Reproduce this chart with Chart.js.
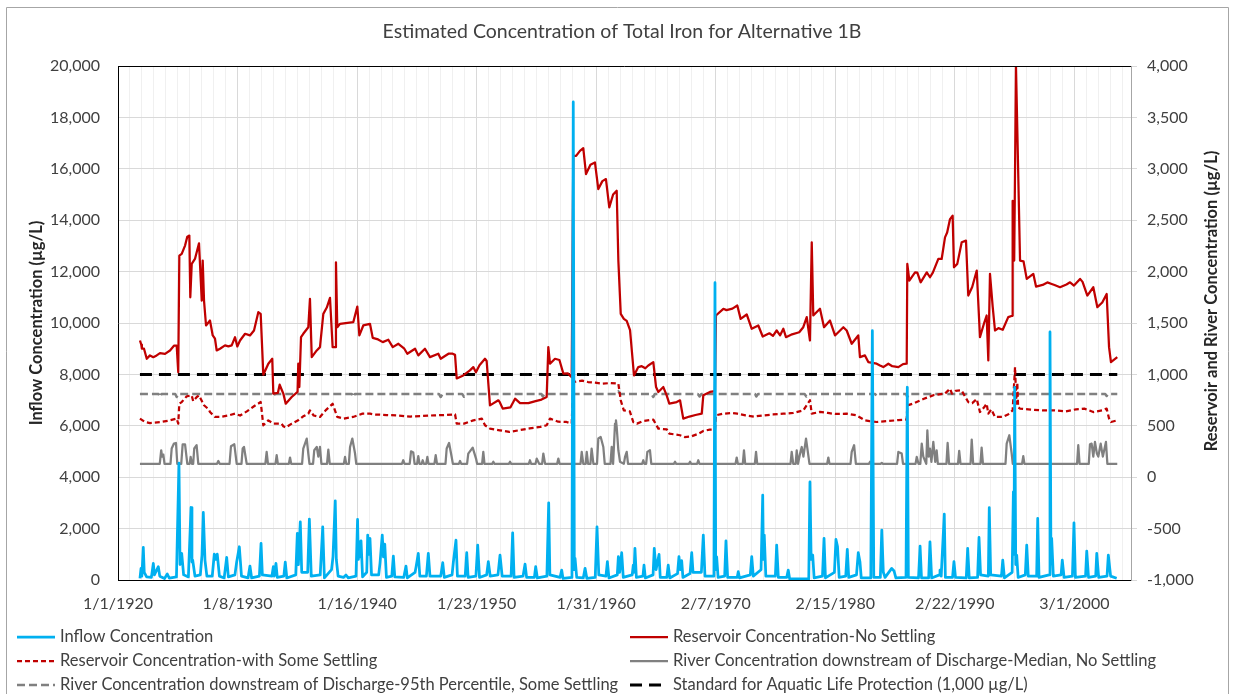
<!DOCTYPE html>
<html>
<head>
<meta charset="utf-8">
<script src="https://cdn.jsdelivr.net/npm/chart.js@4.4.0/dist/chart.umd.min.js"></script>
<style>
  html, body { margin: 0; padding: 0; background: #fff; }
  #wrap { position: relative; width: 1235px; height: 694px; }
</style>
</head>
<body>
<div id="wrap"><canvas id="ironChart"></canvas></div>
<script>
// ═══════════════════════════════════════════════════════
// Estimated Concentration of Total Iron — Alternative 1B
// x = decimal year, y = µg/L
// ═══════════════════════════════════════════════════════

const chartTitle = "Estimated Concentration of Total Iron for Alternative 1B";
const leftAxisTitle = "Inflow Concentration (µg/L)";
const rightAxisTitle = "Reservoir and River Concentration (µg/L)";

const seriesNames = [
  "Inflow Concentration",
  "Reservoir Concentration-No Settling",
  "Reservoir Concentration-with Some Settling",
  "River Concentration downstream of Discharge-Median, No Settling",
  "River Concentration downstream of Discharge-95th Percentile, Some Settling",
  "Standard for Aquatic Life Protection (1,000 µg/L)"
];

const xTickLabels = ["1/1/1920", "1/8/1930", "1/16/1940", "1/23/1950", "1/31/1960",
  "2/7/1970", "2/15/1980", "2/22/1990", "3/1/2000"];

// left axis
const inflow = [
  [1921.84,60],[1921.93,453],[1922.0,150],[1922.12,1268],[1922.2,300],[1922.4,120],[1922.8,100],[1922.96,647],
  [1923.05,200],[1923.38,517],[1923.5,150],[1923.9,60],[1924.13,233],[1924.3,70],[1924.9,120],[1925.11,4550],
  [1925.2,600],[1925.34,1035],[1925.5,200],[1925.9,120],[1926.12,2821],[1926.2,700],[1926.26,776],[1926.45,150],
  [1926.9,200],[1927.04,970],[1927.15,2627],[1927.29,776],[1927.45,150],[1927.9,150],[1928.07,1009],[1928.2,800],
  [1928.32,1009],[1928.5,150],[1928.9,80],[1929.11,880],[1929.25,120],[1929.8,200],[1929.95,712],[1930.17,1294],
  [1930.35,150],[1930.9,80],[1931.06,543],[1931.2,80],[1931.85,150],[1931.99,1423],[1932.1,200],[1932.9,150],
  [1933.02,518],[1933.1,150],[1933.24,647],[1933.35,100],[1933.9,150],[1934.02,699],[1934.15,80],[1934.9,200],
  [1935.03,1812],[1935.12,600],[1935.28,2265],[1935.4,300],[1935.9,300],[1936.04,2368],[1936.2,150],[1936.95,200],
  [1937.16,2070],[1937.3,80],[1937.9,400],[1938.02,900],[1938.21,3080],[1938.3,800],[1938.45,150],[1938.9,100],
  [1939.11,194],[1939.3,80],[1939.95,150],[1940.08,2355],[1940.15,800],[1940.23,1488],[1940.3,900],[1940.37,1527],
  [1940.5,120],[1940.85,300],[1940.93,1747],[1941.0,1000],[1941.12,1618],[1941.25,200],[1941.85,200],[1941.96,647],
  [1942.15,1747],[1942.25,900],[1942.36,1398],[1942.5,100],[1942.95,150],[1943.08,932],[1943.2,120],[1943.95,100],
  [1944.14,543],[1944.25,80],[1944.9,300],[1944.98,500],[1945.17,1035],[1945.3,150],[1945.85,150],[1946.01,1035],
  [1946.15,150],[1947.05,150],[1947.22,673],[1947.35,100],[1948.0,200],[1948.11,700],[1948.33,1553],[1948.45,150],
  [1949.1,150],[1949.23,1061],[1949.35,100],[1950.0,150],[1950.15,1359],[1950.3,100],[1950.9,200],[1951.04,712],
  [1951.2,150],[1951.85,200],[1952.02,970],[1952.2,150],[1952.95,150],[1953.08,1838],[1953.2,100],[1953.95,150],
  [1954.12,621],[1954.25,100],[1954.9,100],[1955.01,518],[1955.15,80],[1955.95,150],[1956.10,3002],[1956.2,200],
  [1957.05,100],[1957.19,388],[1957.3,60],[1958.05,100],[1958.16,18600],[1958.25,400],[1958.31,841],[1958.45,100],
  [1959.0,80],[1959.15,453],[1959.3,60],[1960.0,100],[1960.15,2070],[1960.3,200],[1960.9,150],[1961.02,712],
  [1961.15,80],[1961.85,200],[1961.94,906],[1962.05,300],[1962.22,1061],[1962.35,100],[1963.1,200],[1963.19,582],
  [1963.25,300],[1963.33,1229],[1963.45,100],[1964.0,150],[1964.09,582],[1964.2,80],[1964.85,200],[1964.95,1229],
  [1965.1,400],[1965.35,996],[1965.45,100],[1966.0,100],[1966.12,582],[1966.25,80],[1966.9,250],[1967.02,906],
  [1967.12,400],[1967.25,750],[1967.35,100],[1967.95,250],[1968.09,1061],[1968.2,300],[1968.9,300],[1969.06,1747],
  [1969.2,150],[1969.95,150],[1970.04,11570],[1970.1,400],[1970.18,900],[1970.3,100],[1970.85,150],[1970.96,1527],
  [1971.1,100],[1971.9,100],[1971.99,324],[1972.1,80],[1973.0,200],[1973.12,906],[1973.25,150],[1973.9,400],
  [1974.04,3300],[1974.1,800],[1974.17,1747],[1974.3,150],[1975.1,150],[1975.21,1359],[1975.35,100],[1976.05,100],
  [1976.18,388],[1976.3,40],[1977.9,40],[1978.0,3817],[1978.1,800],[1978.23,970],[1978.35,80],[1979.05,150],
  [1979.18,1618],[1979.3,80],[1980.05,300],[1980.18,1579],[1980.31,1300],[1980.45,100],[1981.0,150],[1981.13,1190],
  [1981.25,100],[1981.9,200],[1982.05,1061],[1982.19,712],[1982.3,80],[1983.1,80],[1983.23,9700],[1983.35,100],
  [1983.9,100],[1984.02,1941],[1984.15,300],[1984.3,100],[1984.85,453],[1985.05,350],[1985.2,80],[1986.05,100],
  [1986.16,7500],[1986.25,100],[1987.1,80],[1987.23,1320],[1987.35,80],[1987.95,80],[1988.06,1488],[1988.2,80],
  [1988.85,200],[1988.9,388],[1989.0,150],[1989.26,2562],[1989.35,100],[1989.95,100],[1990.07,712],[1990.2,100],
  [1991.1,80],[1991.22,1229],[1991.35,80],[1992.05,100],[1992.17,1656],[1992.3,200],[1992.95,150],[1993.03,2821],
  [1993.15,200],[1994.05,150],[1994.16,776],[1994.3,80],[1994.95,300],[1995.05,3429],[1995.1,1000],[1995.16,7500],
  [1995.25,600],[1995.33,970],[1995.45,100],[1996.05,200],[1996.17,1359],[1996.3,150],[1997.0,150],[1997.09,2394],
  [1997.2,100],[1998.05,200],[1998.12,9650],[1998.2,600],[1998.26,1618],[1998.4,150],[1999.05,200],[1999.15,776],
  [1999.3,100],[2000.0,150],[2000.13,2226],[2000.25,100],[2001.1,150],[2001.2,1126],[2001.35,100],[2001.95,150],
  [2002.04,1035],[2002.2,100],[2002.9,150],[2003.01,970],[2003.2,150],[2003.71,65]
];

// right axis
const reservoirNoSettling = [
  [1921.84,1330],[1921.95,1290],[1922.0,1250],[1922.18,1250],[1922.41,1152],[1922.68,1185],[1922.96,1168],
  [1923.24,1185],[1923.52,1207],[1923.94,1200],[1924.36,1233],[1924.69,1279],[1924.92,1279],[1925.05,1022],
  [1925.14,2155],[1925.34,2172],[1925.62,2253],[1925.81,2340],[1925.98,2350],[1926.06,1750],[1926.18,2075],
  [1926.45,2123],[1926.79,2275],[1927.02,1718],[1927.10,2107],[1927.21,1718],[1927.38,1476],[1927.71,1524],
  [1927.94,1379],[1928.13,1347],[1928.27,1233],[1928.55,1250],[1928.97,1282],[1929.25,1272],[1929.53,1282],
  [1929.81,1362],[1930.00,1272],[1930.23,1330],[1930.65,1395],[1931.06,1379],[1931.40,1427],[1931.76,1605],
  [1931.96,1589],[1932.18,997],[1932.60,1104],[1932.93,1152],[1933.02,813],[1933.40,820],[1933.55,900],
  [1933.72,851],[1933.86,813],[1934.06,715],[1934.56,780],[1935.05,830],[1935.11,1104],[1935.20,877],
  [1935.34,1362],[1935.53,1395],[1935.95,1459],[1936.09,1735],[1936.24,1168],[1936.66,1233],[1936.93,1265],
  [1937.21,1589],[1937.5,1650],[1937.77,1744],[1937.99,1265],[1938.19,1265],[1938.27,2090],[1938.38,1459],
  [1938.61,1492],[1939.72,1508],[1940.06,1660],[1940.23,1379],[1940.56,1476],[1941.12,1492],[1941.35,1356],
  [1941.8,1340],[1942.19,1314],[1942.66,1337],[1943.03,1265],[1943.50,1298],[1944.0,1250],[1944.25,1201],
  [1944.9,1250],[1945.17,1185],[1945.73,1250],[1946.15,1168],[1946.85,1201],[1947.05,1152],[1947.7,1201],
  [1948.05,1201],[1948.25,1190],[1948.39,961],[1948.94,990],[1949.50,1039],[1949.78,1071],[1950.0,1020],
  [1950.3,1090],[1950.76,1152],[1950.9,1130],[1951.18,699],[1951.88,748],[1952.0,730],[1952.25,667],
  [1952.9,680],[1953.28,764],[1953.7,720],[1954.4,720],[1955.0,740],[1955.5,755],[1955.93,780],[1956.07,1265],
  [1956.21,1104],[1956.63,1152],[1957.0,1140],[1957.33,1007],[1957.7,1010],[1958.03,974],[1958.16,3126],
  [1958.40,3126],[1958.72,3175],[1959.00,3201],[1959.23,2949],[1959.6,3040],[1959.98,3061],[1960.26,2803],
  [1960.6,2880],[1960.90,2900],[1961.18,2625],[1961.5,2750],[1961.80,2787],[1961.94,2107],[1962.14,1589],
  [1962.4,1540],[1962.64,1520],[1962.92,1430],[1963.25,990],[1963.61,1071],[1963.9,1080],[1964.2,1060],
  [1964.45,1087],[1964.87,1120],[1965.10,877],[1965.29,829],[1965.71,877],[1965.99,796],[1966.21,715],
  [1966.83,731],[1967.11,748],[1967.38,570],[1967.9,590],[1968.4,605],[1968.93,618],[1969.06,796],[1969.62,829],
  [1970.04,838],[1970.12,1573],[1970.74,1638],[1971.0,1625],[1971.5,1640],[1971.91,1670],[1972.19,1540],
  [1972.70,1583],[1973.12,1444],[1973.67,1476],[1974.04,1369],[1974.6,1400],[1974.9,1375],[1975.21,1427],
  [1975.5,1380],[1975.77,1444],[1975.99,1362],[1976.5,1390],[1977.1,1410],[1977.44,1459],[1977.73,1557],
  [1978.00,1330],[1978.15,2285],[1978.28,1573],[1978.84,1638],[1979.18,1459],[1979.68,1524],[1980.10,1379],
  [1980.80,1459],[1981.08,1427],[1981.50,1298],[1982.05,1379],[1982.19,1168],[1982.61,1185],[1982.89,1120],
  [1983.59,1104],[1983.87,1087],[1984.15,1071],[1984.57,1104],[1984.9,1080],[1985.41,1071],[1985.8,1100],
  [1986.11,1104],[1986.16,2075],[1986.33,1913],[1986.81,1993],[1987.0,1990],[1987.28,1896],[1987.79,1993],
  [1988.06,1945],[1988.3,1990],[1988.76,2123],[1989.04,2123],[1989.32,2333],[1989.5,2380],[1989.74,2511],
  [1989.96,2544],[1990.07,2042],[1990.35,2075],[1990.72,2285],[1991.08,2301],[1991.27,1767],[1991.6,1850],
  [1991.98,2010],[1992.25,1362],[1992.6,1500],[1992.81,1573],[1992.95,1136],[1993.09,1978],[1993.32,1654],
  [1993.51,1427],[1993.8,1450],[1994.16,1434],[1994.62,1557],[1994.95,1570],[1994.99,2689],[1995.12,2107],
  [1995.27,3990],[1995.61,2107],[1995.9,2100],[1996.17,1929],[1996.72,1978],[1996.95,1854],[1997.5,1870],
  [1997.9,1895],[1998.26,1880],[1998.5,1870],[1998.96,1848],[1999.5,1875],[1999.80,1896],[2000.13,1864],
  [2000.64,1929],[2000.85,1900],[2001.25,1767],[2001.75,1848],[2002.09,1654],[2002.5,1700],[2002.87,1783],
  [2003.07,1265],[2003.23,1120],[2003.76,1168]
];

const reservoirSomeSettling = [
  [1921.84,570],[1922.26,537],[1922.68,527],[1923.52,535],[1924.36,553],[1924.92,570],[1925.05,521],[1925.14,715],
  [1925.34,731],[1925.76,787],[1926.18,796],[1926.3,740],[1926.6,780],[1926.79,796],[1927.21,700],[1927.6,660],
  [1927.71,634],[1928.13,586],[1928.55,586],[1929.25,600],[1929.81,618],[1930.23,600],[1930.8,640],[1931.4,690],
  [1931.96,731],[1932.18,505],[1932.60,553],[1933.02,521],[1933.72,521],[1933.86,495],[1934.06,483],[1934.56,521],
  [1935.1,553],[1935.5,590],[1935.95,618],[1936.09,650],[1936.4,600],[1936.93,586],[1937.4,650],[1937.77,690],
  [1937.99,715],[1938.38,586],[1938.9,570],[1939.7,586],[1940.5,618],[1941.12,618],[1941.5,610],[1942.5,605],
  [1943.5,600],[1944.5,590],[1945.5,595],[1946.5,602],[1947.5,605],[1948.25,612],[1948.39,521],[1949.0,521],
  [1949.78,553],[1950.5,570],[1950.76,505],[1951.18,473],[1952.0,456],[1952.8,440],[1953.6,456],[1954.5,475],
  [1955.4,489],[1955.93,505],[1956.21,570],[1956.9,540],[1957.6,537],[1958.03,521],[1958.16,926],[1958.9,940],
  [1959.4,926],[1960.0,920],[1960.6,910],[1961.3,916],[1961.94,910],[1962.14,748],[1962.4,650],[1962.9,640],
  [1963.19,537],[1963.5,521],[1964.0,545],[1964.87,560],[1965.29,473],[1966.0,465],[1966.21,424],[1967.11,408],
  [1967.5,391],[1968.0,395],[1968.6,420],[1969.06,450],[1969.6,463],[1970.04,463],[1970.12,602],[1970.74,618],
  [1971.5,625],[1971.91,618],[1972.6,602],[1973.3,590],[1974.0,600],[1974.9,610],[1975.77,618],[1976.6,625],
  [1977.44,650],[1978.00,748],[1978.15,618],[1978.84,635],[1979.5,625],[1980.10,615],[1981.08,618],[1981.9,602],
  [1982.61,553],[1983.0,545],[1983.59,537],[1984.4,545],[1985.4,555],[1986.11,560],[1986.16,699],[1986.6,715],
  [1987.5,760],[1988.4,800],[1989.32,813],[1989.74,861],[1989.9,813],[1990.2,840],[1990.7,845],[1991.27,731],
  [1991.6,720],[1991.98,760],[1992.25,634],[1992.6,680],[1992.81,715],[1992.95,618],[1993.2,660],[1993.51,586],
  [1994.16,586],[1994.6,610],[1994.99,650],[1995.19,1071],[1995.3,715],[1995.38,920],[1995.45,680],[1995.61,667],
  [1996.3,660],[1997.5,650],[1998.5,650],[1999.4,640],[2000.3,660],[2001.0,667],[2001.75,634],[2002.5,650],
  [2002.87,667],[2003.07,570],[2003.23,537],[2003.76,553]
];

const riverMedian = [
  [1921.84,130],[1923.5,130],[1923.62,262],[1923.7,200],[1923.8,220],[1923.9,130],[1924.4,130],[1924.5,279],
  [1924.69,327],[1924.86,333],[1924.97,130],[1925.3,130],[1925.42,320],[1925.62,320],[1925.81,130],[1926.0,130],
  [1926.09,197],[1926.2,130],[1926.3,130],[1926.39,279],[1926.59,311],[1926.73,130],[1928.3,130],[1928.41,158],
  [1928.52,130],[1929.35,130],[1929.47,301],[1929.75,320],[1929.95,130],[1930.35,130],[1930.45,279],[1930.56,294],
  [1930.79,130],[1932.35,130],[1932.46,246],[1932.57,130],[1933.2,130],[1933.3,214],[1933.4,130],[1934.32,130],
  [1934.42,191],[1934.52,130],[1935.43,130],[1935.53,279],[1935.82,376],[1935.95,230],[1936.05,130],[1936.35,130],
  [1936.45,262],[1936.66,294],[1936.79,200],[1936.93,294],[1937.05,130],[1937.52,130],[1937.63,269],[1937.75,130],
  [1938.93,130],[1939.03,197],[1939.13,130],[1939.35,130],[1939.45,294],[1939.64,376],[1939.87,230],[1939.97,130],
  [1943.8,130],[1943.91,165],[1944.02,130],[1944.45,130],[1944.56,252],[1944.75,240],[1944.86,130],[1945.07,130],
  [1945.17,204],[1945.28,130],[1945.45,130],[1945.54,165],[1945.64,130],[1945.83,130],[1945.93,197],[1946.03,130],
  [1946.52,130],[1946.63,214],[1946.74,130],[1947.45,130],[1947.55,279],[1947.75,333],[1947.97,197],[1948.07,130],
  [1948.57,130],[1948.67,158],[1948.77,130],[1949.26,130],[1949.36,230],[1949.73,288],[1950.01,181],[1950.1,130],
  [1950.52,130],[1950.62,246],[1950.72,130],[1951.36,130],[1951.46,150],[1951.56,130],[1952.76,130],[1952.86,150],
  [1952.96,130],[1954.43,130],[1954.53,165],[1954.63,130],[1955.0,130],[1955.10,181],[1955.3,130],[1955.55,130],
  [1955.65,230],[1955.8,130],[1956.81,130],[1956.91,181],[1957.01,130],[1958.77,130],[1958.87,246],[1959.0,130],
  [1959.2,130],[1959.29,246],[1959.4,130],[1959.6,130],[1959.70,279],[1959.85,130],[1960.15,130],[1960.26,376],
  [1960.46,391],[1960.68,294],[1960.8,130],[1961.28,130],[1961.38,294],[1961.5,130],[1961.55,130],[1961.66,521],
  [1961.74,553],[1961.80,489],[1961.94,262],[1962.08,150],[1962.4,130],[1962.50,197],[1962.64,246],[1962.75,130],
  [1963.93,130],[1964.03,165],[1964.13,130],[1964.27,130],[1964.37,246],[1964.59,262],[1964.7,130],[1966.59,130],
  [1966.69,150],[1966.79,130],[1967.85,130],[1967.95,150],[1968.05,130],[1968.54,130],[1968.64,165],[1968.74,130],
  [1971.76,130],[1971.86,191],[1971.96,130],[1972.37,130],[1972.47,262],[1972.57,130],[1973.38,130],[1973.48,246],
  [1973.58,130],[1976.37,130],[1976.47,246],[1976.6,130],[1976.8,130],[1976.89,262],[1977.0,130],[1977.08,130],
  [1977.17,230],[1977.31,294],[1977.45,200],[1977.67,376],[1977.86,214],[1977.96,130],[1979.44,130],[1979.54,191],
  [1979.64,130],[1981.4,130],[1981.50,246],[1981.7,311],[1981.85,130],[1982.94,130],[1983.04,150],[1983.14,130],
  [1983.92,130],[1984.02,140],[1984.12,130],[1985.3,130],[1985.41,246],[1985.69,230],[1985.8,130],[1986.85,130],
  [1986.95,197],[1987.1,130],[1987.25,130],[1987.37,327],[1987.5,200],[1987.75,130],[1987.84,456],[1987.95,200],
  [1988.06,278],[1988.18,150],[1988.34,343],[1988.5,150],[1988.62,262],[1988.72,130],[1989.44,130],[1989.54,333],
  [1989.66,130],[1990.41,130],[1990.51,256],[1990.62,130],[1991.46,130],[1991.56,366],[1991.68,130],[1992.29,130],
  [1992.39,288],[1992.5,130],[1994.39,130],[1994.49,327],[1994.71,408],[1994.91,230],[1995.0,130],[1995.78,130],
  [1995.88,204],[1995.98,130],[2000.39,130],[2000.49,311],[2000.6,130],[2001.37,130],[2001.47,320],[2001.61,327],
  [2001.75,200],[2001.89,343],[2002.05,230],[2002.17,200],[2002.37,327],[2002.55,200],[2002.81,343],[2002.93,130],
  [2003.76,130]
];

const river95th = [
  [1921.84,810],[1923.4,810],[1923.52,780],[1923.65,810],[1924.8,810],[1924.92,780],[1925.05,810],[1932.9,810],
  [1933.02,785],[1933.15,810],[1939.6,810],[1939.72,780],[1939.85,810],[1946.9,810],[1947.05,780],[1947.2,810],
  [1948.85,810],[1949.0,782],[1949.15,810],[1955.5,810],[1955.6,785],[1955.75,810],[1961.8,810],[1961.94,835],
  [1962.1,810],[1964.7,810],[1964.87,780],[1965.0,810],[1968.6,810],[1968.75,785],[1968.9,810],[1973.4,810],
  [1973.5,785],[1973.65,810],[1977.55,810],[1977.7,785],[1977.85,810],[1983.45,810],[1983.6,790],[1983.75,810],
  [1986.05,810],[1986.16,780],[1986.3,810],[1995.15,810],[1995.27,790],[1995.4,810],[2002.75,810],[2002.87,790],
  [2003.0,810],[2003.76,810]
];

const aquaticStandard = [[1921.84,1000],[2003.76,1000]];

// ── Helpers ───────────────────────────────────────────
const toXY = (pts) => pts.map(([x, y]) => ({ x, y }));
const MAJOR_STEP = 3660 / 365.25;        // Excel major unit: 3660 days
const MINOR_STEP = MAJOR_STEP / 10;
const X_MIN = 1920;
const X_MAX = 2004.91;
const FONT = "Lato";
const TEXT = "#404040";

// ── Overlay: frame, title, axis titles, legend ────────
const overlay = {
  id: "overlay",
  afterDraw(chart) {
    const { ctx, chartArea: a } = chart;
    ctx.save();

    ctx.strokeStyle = "#000";
    ctx.lineWidth = 1;
    ctx.beginPath();
    ctx.moveTo(a.left, Math.round(a.top) + 0.5);
    ctx.lineTo(a.right, Math.round(a.top) + 0.5);
    ctx.stroke();

    ctx.strokeStyle = "#a6a6a6";
    ctx.beginPath();
    ctx.moveTo(6.5, 700);
    ctx.lineTo(6.5, 7.5);
    ctx.lineTo(1228.5, 7.5);
    ctx.lineTo(1228.5, 700);
    ctx.stroke();

    ctx.fillStyle = TEXT;
    ctx.textAlign = "center";
    ctx.textBaseline = "middle";
    ctx.font = "19.5px " + FONT;
    ctx.fillText(chartTitle, 622, 32);

    ctx.font = "bold 16.5px " + FONT;
    ctx.fillStyle = "#262626";
    ctx.save();
    ctx.translate(37, 323);
    ctx.rotate(-Math.PI / 2);
    ctx.fillText(leftAxisTitle, 0, 0);
    ctx.restore();
    ctx.save();
    ctx.translate(1212, 301);
    ctx.rotate(-Math.PI / 2);
    ctx.fillText(rightAxisTitle, 0, 0);
    ctx.restore();

    // two-column legend
    const slots = [[17, 637], [630, 637], [17, 661], [630, 661], [17, 685], [630, 685]];
    ctx.textAlign = "left";
    ctx.font = "16.5px " + FONT;
    chart.data.datasets.forEach((ds, i) => {
      const [lx, ly] = slots[i];
      ctx.strokeStyle = ds.borderColor;
      ctx.lineWidth = ds.borderWidth;
      ctx.setLineDash(ds.borderDash || []);
      ctx.beginPath();
      ctx.moveTo(lx, ly);
      ctx.lineTo(lx + 38, ly);
      ctx.stroke();
      ctx.setLineDash([]);
      ctx.fillStyle = TEXT;
      ctx.fillText(ds.label, lx + 43, ly);
    });

    ctx.restore();
  }
};

// ── Chart ─────────────────────────────────────────────
const lineDefaults = { pointRadius: 0, tension: 0, fill: false, borderJoinStyle: "round", borderCapStyle: "butt" };

new Chart(document.getElementById("ironChart"), {
  type: "line",
  data: {
    datasets: [
      { ...lineDefaults, label: seriesNames[0], data: toXY(inflow), yAxisID: "y",
        borderColor: "#00B0F0", borderWidth: 2.75 },
      { ...lineDefaults, label: seriesNames[1], data: toXY(reservoirNoSettling), yAxisID: "y2",
        borderColor: "#C00000", borderWidth: 2.25 },
      { ...lineDefaults, label: seriesNames[2], data: toXY(reservoirSomeSettling), yAxisID: "y2",
        borderColor: "#C00000", borderWidth: 2.25, borderDash: [5, 3] },
      { ...lineDefaults, label: seriesNames[3], data: toXY(riverMedian), yAxisID: "y2",
        borderColor: "#808080", borderWidth: 2.25 },
      { ...lineDefaults, label: seriesNames[4], data: toXY(river95th), yAxisID: "y2",
        borderColor: "#808080", borderWidth: 2.5, borderDash: [8, 4] },
      { ...lineDefaults, label: seriesNames[5], data: toXY(aquaticStandard), yAxisID: "y2",
        borderColor: "#000000", borderWidth: 3, borderDash: [12, 7] }
    ]
  },
  options: {
    responsive: true,
    maintainAspectRatio: false,
    animation: false,
    layout: { padding: { top: 66, bottom: 74, left: 0, right: 0 } },
    plugins: { legend: { display: false }, tooltip: { enabled: false }, title: { display: false } },
    scales: {
      x: {
        type: "linear",
        min: X_MIN,
        max: X_MAX,
        afterBuildTicks(scale) {
          const ticks = [];
          for (let i = 0; X_MIN + i * MINOR_STEP <= X_MAX; i++) ticks.push({ value: X_MIN + i * MINOR_STEP });
          scale.ticks = ticks;
        },
        afterFit(scale) { scale.height = 40; },
        ticks: {
          autoSkip: false,
          maxRotation: 0,
          minRotation: 0,
          padding: 14,
          color: TEXT,
          font: { family: FONT, size: 16 },
          callback: (v, i) => (i % 10 === 0 ? xTickLabels[i / 10] || "" : "")
        },
        grid: {
          drawTicks: false,
          color: (c) => (c.index % 10 === 0 ? "#d9d9d9" : "#f0f0f0")
        },
        border: { color: "#000", width: 1 }
      },
      y: {
        position: "left",
        min: 0,
        max: 20000,
        afterFit(scale) { scale.width = 118; },
        ticks: {
          stepSize: 2000,
          padding: 18,
          color: TEXT,
          font: { family: FONT, size: 16 },
          callback: (v) => v.toLocaleString("en-US")
        },
        grid: { drawTicks: false, color: "#d9d9d9" },
        border: { color: "#000", width: 1 }
      },
      y2: {
        position: "right",
        min: -1000,
        max: 4000,
        afterFit(scale) { scale.width = 104; },
        ticks: {
          stepSize: 500,
          padding: 10,
          color: TEXT,
          font: { family: FONT, size: 16 },
          callback: (v) => v.toLocaleString("en-US")
        },
        grid: { drawOnChartArea: false, drawTicks: true, tickLength: 6, color: "#d9d9d9" },
        border: { color: "#a6a6a6", width: 1 }
      }
    }
  },
  plugins: [overlay]
});
</script>
</body>
</html>
